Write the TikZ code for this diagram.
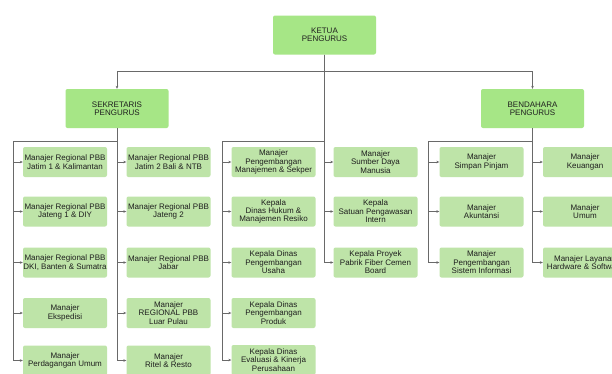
\documentclass[tikz,border=0pt]{standalone}
\usepackage{fontspec}
\setmainfont{Liberation Sans}
\usetikzlibrary{arrows.meta}
\definecolor{topg}{RGB}{166,230,134}
\definecolor{subg}{RGB}{190,228,168}
\definecolor{lnc}{RGB}{105,105,105}
\definecolor{txc}{RGB}{30,30,30}
\tikzset{
  boxfont/.style={font=\fontsize{8}{8.4}\selectfont},
  topbox/.style={fill=topg, rounded corners=2pt, minimum width=103pt, minimum height=39pt, align=center, boxfont, text=txc, inner sep=1pt},
  subbox/.style={fill=subg, rounded corners=2pt, minimum width=84pt, minimum height=30pt, align=center, boxfont, text=txc, inner sep=0pt},
  conn/.style={draw=lnc, line width=0.7pt},
  arr/.style={conn, -{Stealth[length=3pt,width=2.6pt]}},
}
\begin{document}
\begin{tikzpicture}[x=1pt,y=-1pt]
\clip (0,0) rectangle (612,373);
\fill[white] (0,0) rectangle (612,373);

% top level
\node[topbox] (ket) at (324.5,35) {KETUA\\PENGURUS};
\node[topbox] (sek) at (117,108.5) {SEKRETARIS\\PENGURUS};
\node[topbox] (ben) at (532.5,108.5) {BENDAHARA\\PENGURUS};

% column 1
\node[subbox] (a1) at (65,162) {Manajer Regional PBB\\Jatim 1 \& Kalimantan};
\node[subbox] (a2) at (65,211.5) {Manajer Regional PBB\\Jateng 1 \& DIY};
\node[subbox] (a3) at (65,262.5) {Manajer Regional PBB\\DKI, Banten \& Sumatra};
\node[subbox] (a4) at (65,313) {Manajer\\Ekspedisi};
\node[subbox] (a5) at (65,360.5) {Manajer\\Perdagangan Umum};
% column 2
\node[subbox] (b1) at (168.5,162) {Manajer Regional PBB\\Jatim 2 Bali \& NTB};
\node[subbox] (b2) at (168.5,211.5) {Manajer Regional PBB\\Jateng 2};
\node[subbox] (b3) at (168.5,262.5) {Manajer Regional PBB\\Jabar};
\node[subbox] (b4) at (168.5,313) {Manajer\\REGIONAL PBB\\Luar Pulau};
\node[subbox] (b5) at (168.5,360.5) {Manajer\\Ritel \& Resto};
% column 3
\node[subbox] (c1) at (273.5,162) {Manajer\\Pengembangan\\Manajemen \& Sekper};
\node[subbox] (c2) at (273.5,211.5) {Kepala\\Dinas Hukum \&\\Manajemen Resiko};
\node[subbox] (c3) at (273.5,262.5) {Kepala Dinas\\Pengembangan\\Usaha};
\node[subbox] (c4) at (273.5,313) {Kepala Dinas\\Pengembangan\\Produk};
\node[subbox] (c5) at (273.5,360) {Kepala Dinas\\Evaluasi \& Kinerja\\Perusahaan};
% column 4
\node[subbox] (d1) at (375.5,162) {Manajer\\Sumber Daya\\Manusia};
\node[subbox] (d2) at (375.5,211.5) {Kepala\\Satuan Pengawasan\\Intern};
\node[subbox] (d3) at (375.5,262.5) {Kepala Proyek\\Pabrik Fiber Cemen\\Board};
% column 5
\node[subbox] (e1) at (481.5,162) {Manajer\\Simpan Pinjam};
\node[subbox] (e2) at (481.5,211.5) {Manajer\\Akuntansi};
\node[subbox] (e3) at (481.5,262.5) {Manajer\\Pengembangan\\Sistem Informasi};
% column 6
\node[subbox] (f1) at (585,162) {Manajer\\Keuangan};
\node[subbox] (f2) at (585,211.5) {Manajer\\Umum};
\node[subbox] (f3) at (585,262.5) {Manajer Layanan\\Hardware \& Software};

% junctions
\coordinate (jl) at (13,141);
\coordinate (jc) at (324.5,141);
\coordinate (j3) at (222,141);
\coordinate (j5) at (428,141);

% top connectors
\draw[arr] (ket.south) -- ++(0,16.5) -| (sek.north);
\draw[arr] (ket.south) -- ++(0,16.5) -| (ben.north);

% sekretaris branch
\draw[conn] (sek.south) |- (jl);
\draw[arr] (jl) |- (a5.west);
\foreach \i in {1,...,4} \draw[arr] (jl |- a\i.west) -- (a\i.west);
\draw[arr] (sek.south) |- (b5.west);
\foreach \i in {1,...,4} \draw[arr] (sek.south |- b\i.west) -- (b\i.west);

% ketua middle branch
\draw[arr] (ket.south) |- (d3.west);
\foreach \i in {1,2} \draw[arr] (ket.south |- d\i.west) -- (d\i.west);
\draw[conn] (jc) -- (j3);
\draw[arr] (j3) |- (c5.west);
\foreach \i in {1,...,4} \draw[arr] (j3 |- c\i.west) -- (c\i.west);

% bendahara branch
\draw[conn] (ben.south) |- (j5);
\draw[arr] (j5) |- (e3.west);
\foreach \i in {1,2} \draw[arr] (j5 |- e\i.west) -- (e\i.west);
\draw[arr] (ben.south) |- (f3.west);
\foreach \i in {1,2} \draw[arr] (ben.south |- f\i.west) -- (f\i.west);
\end{tikzpicture}
\end{document}
